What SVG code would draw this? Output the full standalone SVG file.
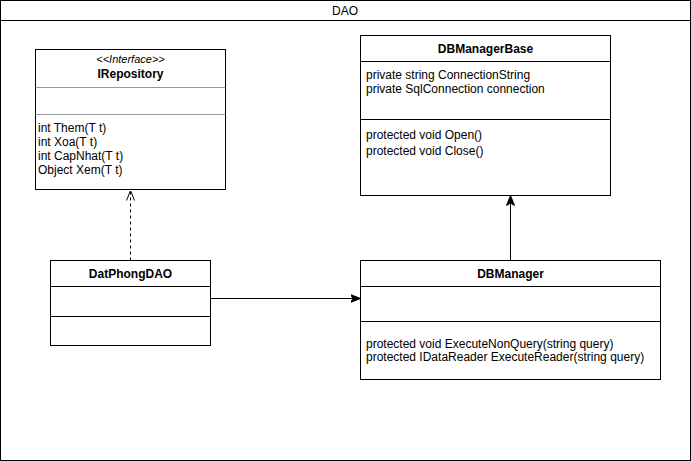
<svg xmlns="http://www.w3.org/2000/svg" width="691" height="461" viewBox="0 0 691 461">
<style>
  .box{fill:#fff;stroke:#000;stroke-width:1}
  .div{stroke:#000;stroke-width:1}
  .gdiv{stroke:#999;stroke-width:1}
  text{font-family:"Liberation Sans",Arial,sans-serif;font-size:12px;fill:#000}
  .t{font-weight:bold;text-anchor:middle}
  .c{text-anchor:middle}
  .st{font-style:italic;font-size:11px;text-anchor:middle}
  .edge{fill:none;stroke:#000;stroke-width:1}
</style>
<defs>
  <marker id="open" viewBox="0 0 10 10" refX="10" refY="5" markerWidth="10" markerHeight="10" markerUnits="userSpaceOnUse" orient="auto">
    <path d="M0,1 L10,5 L0,9" fill="none" stroke="#000" stroke-width="1"/>
  </marker>
  <marker id="block" viewBox="0 0 10 10" refX="10" refY="5" markerWidth="10" markerHeight="10" markerUnits="userSpaceOnUse" orient="auto">
    <path d="M0,1 L10,5 L0,9 L2.5,5 Z" fill="#000" stroke="#000" stroke-width="1"/>
  </marker>
</defs>
<g id="DAO">
  <rect x="0.5" y="0.5" width="690" height="460" class="box"/>
  <line x1="0.5" y1="20.5" x2="690.5" y2="20.5" class="div"/>
  <text x="345" y="15" class="c">DAO</text>
</g>
<g id="connectors">
  <path d="M130.5,260.5 L130.5,190.5" class="edge" stroke-dasharray="3,3" marker-end="url(#open)"/>
  <path d="M210.5,298.5 L360.5,298.5" class="edge" marker-end="url(#block)"/>
  <path d="M510.5,260.5 L510.5,195.5" class="edge" marker-end="url(#block)"/>
</g>
<g id="IRepository">
  <rect x="35.5" y="49.5" width="190" height="140" class="box"/>
  <line x1="35.5" y1="87.5" x2="225.5" y2="87.5" class="gdiv"/>
  <line x1="35.5" y1="114.5" x2="225.5" y2="114.5" class="gdiv"/>
  <text x="130.5" y="63" class="st">&lt;&lt;Interface&gt;&gt;</text>
  <text x="130.5" y="78" class="t">IRepository</text>
  <text x="38" y="132">int Them(T t)</text>
  <text x="38" y="146">int Xoa(T t)</text>
  <text x="38" y="160">int CapNhat(T t)</text>
  <text x="38" y="174">Object Xem(T t)</text>
</g>
<g id="DBManagerBase">
  <rect x="360.5" y="35.5" width="250" height="160" class="box"/>
  <line x1="360.5" y1="61.5" x2="610.5" y2="61.5" class="div"/>
  <line x1="360.5" y1="119.5" x2="610.5" y2="119.5" class="div"/>
  <text x="485.5" y="53" class="t">DBManagerBase</text>
  <text x="366" y="79">private string ConnectionString</text>
  <text x="366" y="93">private SqlConnection connection</text>
  <text x="366" y="139">protected void Open()</text>
  <text x="366" y="155">protected void Close()</text>
</g>
<g id="DatPhongDAO">
  <rect x="50.5" y="260.5" width="160" height="85" class="box"/>
  <line x1="50.5" y1="286.5" x2="210.5" y2="286.5" class="div"/>
  <line x1="50.5" y1="316.5" x2="210.5" y2="316.5" class="div"/>
  <text x="130.5" y="278" class="t">DatPhongDAO</text>
</g>
<g id="DBManager">
  <rect x="360.5" y="260.5" width="300" height="119" class="box"/>
  <line x1="360.5" y1="286.5" x2="660.5" y2="286.5" class="div"/>
  <line x1="360.5" y1="321.5" x2="660.5" y2="321.5" class="div"/>
  <text x="510.5" y="278" class="t">DBManager</text>
  <text x="366" y="348">protected void ExecuteNonQuery(string query)</text>
  <text x="366" y="361">protected IDataReader ExecuteReader(string query)</text>
</g>
</svg>
